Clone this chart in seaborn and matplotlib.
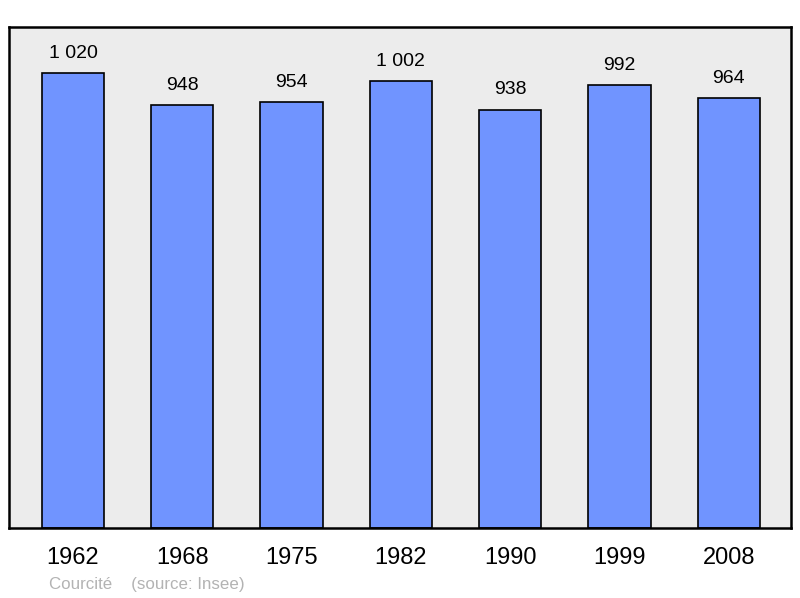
import matplotlib
matplotlib.use('Agg')
import matplotlib.pyplot as plt
import seaborn as sns
import pandas as pd

years = ['1962', '1968', '1975', '1982', '1990', '1999', '2008']
population = [1020, 948, 954, 1002, 938, 992, 964]
labels = ['1 020', '948', '954', '1 002', '938', '992', '964']

sns.set_style('white')
plt.rcParams['font.family'] = ['Liberation Sans', 'DejaVu Sans']

df = pd.DataFrame({'year': years, 'pop': population})

fig = plt.figure(figsize=(8, 5.98), dpi=100)
ax = fig.add_axes([9 / 800, 70 / 598, 782 / 800, 501 / 598])
ax.set_facecolor('#ececec')

sns.barplot(data=df, x='year', y='pop', color='#7094ff', saturation=1,
            width=0.57, edgecolor='black', linewidth=1.2, ax=ax)

for i, (v, lab) in enumerate(zip(population, labels)):
    ax.annotate(lab, (i, v), xytext=(0, 8), textcoords='offset points',
                ha='center', va='bottom', fontsize=14, color='black')

ax.set_xlim(-0.586, 6.57)
ax.set_ylim(0, 1123)
ax.set_yticks([])
ax.set_xlabel('')
ax.set_ylabel('')
ax.tick_params(axis='x', length=0, labelsize=17, pad=14, labelcolor='black')
for s in ax.spines.values():
    s.set_color('black')
    s.set_linewidth(1.8)

fig.text(49 / 800, 1 - 585 / 598, 'Courcité    (source: Insee)', fontsize=12.2,
         color='#b3b3b3', va='center')

fig.savefig('out.png', dpi=100)
